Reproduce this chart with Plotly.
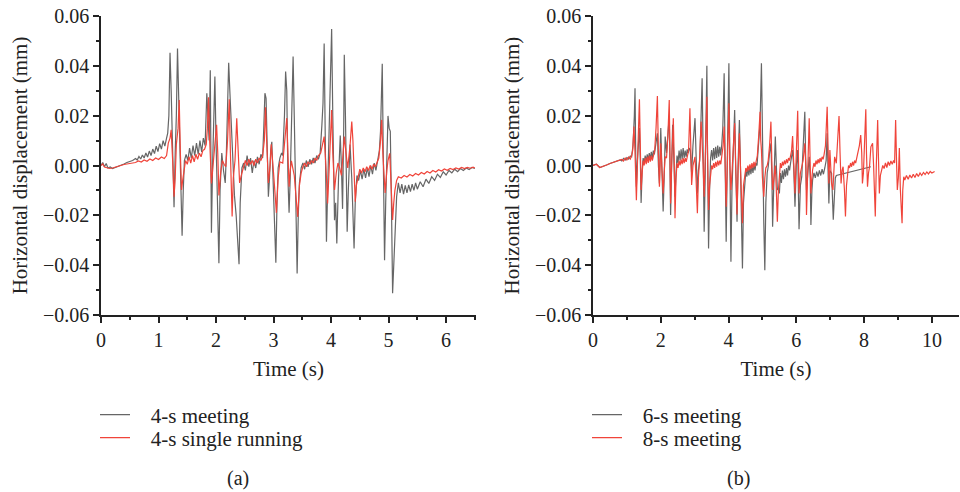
import plotly.graph_objects as go

# ---------------- Panel (a) ----------------
a_meet_t = [0.00,0.03,0.06,0.09,0.12,0.16,0.20,0.25,0.30,0.35,0.40,0.45,0.50,0.55,0.60,0.63,0.66,0.69,0.72,0.75,0.78,0.81,0.84,0.87,0.90,0.93,0.96,0.99,1.02,1.05,1.08,1.11,1.14,1.16,1.18,1.20,1.22,1.24,1.27,1.29,1.31,1.33,1.35,1.37,1.39,1.41,1.43,1.45,1.48,1.51,1.54,1.57,1.60,1.63,1.66,1.69,1.72,1.75,1.78,1.81,1.84,1.86,1.88,1.90,1.92,1.94,1.96,1.98,2.00,2.03,2.05,2.07,2.10,2.13,2.16,2.18,2.20,2.22,2.24,2.27,2.30,2.32,2.35,2.38,2.40,2.42,2.45,2.48,2.51,2.54,2.57,2.60,2.63,2.66,2.69,2.72,2.75,2.78,2.81,2.83,2.85,2.87,2.89,2.91,2.93,2.95,2.97,2.99,3.01,3.04,3.06,3.08,3.11,3.14,3.16,3.19,3.21,3.23,3.25,3.27,3.29,3.31,3.34,3.36,3.38,3.41,3.43,3.45,3.48,3.51,3.54,3.57,3.60,3.63,3.66,3.69,3.72,3.75,3.78,3.81,3.84,3.86,3.88,3.90,3.92,3.94,3.96,3.98,4.01,4.03,4.06,4.08,4.10,4.13,4.16,4.18,4.20,4.22,4.23,4.25,4.28,4.30,4.33,4.36,4.38,4.40,4.42,4.45,4.48,4.51,4.54,4.57,4.60,4.63,4.66,4.69,4.72,4.75,4.78,4.81,4.84,4.86,4.89,4.91,4.93,4.95,4.97,4.99,5.01,5.03,5.05,5.07,5.09,5.11,5.14,5.17,5.20,5.23,5.26,5.29,5.32,5.35,5.38,5.41,5.44,5.47,5.50,5.55,5.60,5.65,5.70,5.75,5.80,5.85,5.90,5.95,6.00,6.05,6.10,6.15,6.20,6.25,6.30,6.35,6.40,6.45,6.50]
a_meet_v = [0.0000,0.0012,-0.0005,0.0008,-0.0010,-0.0006,-0.0012,-0.0008,-0.0004,0.0000,0.0006,0.0012,0.0016,0.0020,0.0028,0.0022,0.0036,0.0026,0.0042,0.0030,0.0050,0.0034,0.0058,0.0040,0.0066,0.0048,0.0078,0.0056,0.0088,0.0066,0.0100,0.0078,0.0110,0.0130,0.0200,0.0452,0.0300,0.0100,-0.0168,0.0050,0.0200,0.0470,0.0300,0.0050,-0.0100,-0.0282,-0.0100,0.0020,0.0045,0.0020,0.0070,0.0030,0.0080,0.0040,0.0090,0.0045,0.0100,0.0055,0.0110,0.0080,0.0290,0.0200,0.0100,0.0382,-0.0270,0.0000,0.0150,0.0357,0.0100,-0.0150,-0.0392,-0.0100,0.0050,-0.0020,-0.0070,0.0050,0.0250,0.0412,0.0300,0.0156,-0.0050,-0.0120,-0.0200,-0.0300,-0.0396,-0.0150,-0.0010,0.0010,-0.0020,0.0040,-0.0005,0.0030,-0.0030,0.0020,-0.0010,0.0035,0.0005,0.0045,0.0030,0.0150,0.0290,0.0270,0.0050,-0.0125,-0.0050,0.0060,0.0095,-0.0050,-0.0205,-0.0390,-0.0150,-0.0010,0.0030,0.0050,0.0040,0.0200,0.0377,0.0300,-0.0050,-0.0190,-0.0050,0.0150,0.0437,0.0200,-0.0100,-0.0433,-0.0200,-0.0070,-0.0010,0.0010,-0.0015,0.0020,-0.0005,0.0025,0.0005,0.0030,0.0010,0.0040,0.0025,0.0050,0.0160,0.0250,0.0490,0.0100,-0.0306,-0.0100,0.0096,0.0200,0.0548,0.0200,-0.0220,-0.0150,-0.0313,-0.0050,0.0120,0.0000,-0.0174,0.0150,0.0444,0.0200,-0.0266,-0.0100,0.0084,-0.0050,-0.0200,-0.0333,-0.0150,-0.0040,-0.0060,-0.0020,-0.0055,-0.0015,-0.0050,-0.0010,-0.0045,0.0000,-0.0035,0.0010,-0.0020,0.0020,0.0060,0.0137,0.0408,0.0000,-0.0380,-0.0150,0.0050,0.0199,0.0150,0.0137,-0.0150,-0.0513,-0.0400,-0.0290,-0.0125,-0.0070,-0.0110,-0.0075,-0.0115,-0.0080,-0.0110,-0.0078,-0.0105,-0.0075,-0.0100,-0.0070,-0.0095,-0.0065,-0.0085,-0.0055,-0.0072,-0.0045,-0.0060,-0.0035,-0.0048,-0.0025,-0.0038,-0.0020,-0.0030,-0.0015,-0.0025,-0.0012,-0.0020,-0.0010,-0.0016,-0.0008,-0.0012]

a_single_t = [0.00,0.03,0.06,0.10,0.15,0.20,0.25,0.30,0.40,0.50,0.60,0.65,0.70,0.75,0.80,0.85,0.90,0.95,1.00,1.05,1.10,1.14,1.17,1.20,1.22,1.25,1.27,1.29,1.31,1.34,1.36,1.38,1.40,1.42,1.44,1.47,1.50,1.53,1.56,1.59,1.62,1.65,1.68,1.71,1.74,1.77,1.80,1.83,1.85,1.87,1.89,1.92,1.94,1.96,1.99,2.01,2.03,2.05,2.08,2.11,2.14,2.17,2.20,2.23,2.25,2.28,2.30,2.33,2.36,2.38,2.41,2.45,2.48,2.51,2.54,2.57,2.60,2.63,2.66,2.69,2.72,2.75,2.78,2.81,2.84,2.86,2.88,2.91,2.94,2.96,3.00,3.03,3.05,3.08,3.11,3.16,3.19,3.23,3.25,3.27,3.29,3.31,3.36,3.39,3.42,3.45,3.48,3.51,3.54,3.57,3.60,3.63,3.66,3.69,3.72,3.75,3.78,3.82,3.85,3.88,3.91,3.94,3.96,3.98,4.01,4.03,4.06,4.09,4.12,4.15,4.18,4.21,4.23,4.26,4.29,4.33,4.36,4.38,4.40,4.42,4.44,4.47,4.50,4.53,4.56,4.59,4.62,4.65,4.68,4.71,4.74,4.77,4.80,4.83,4.86,4.88,4.90,4.92,4.94,4.97,4.99,5.02,5.04,5.07,5.09,5.11,5.14,5.17,5.22,5.27,5.32,5.37,5.42,5.47,5.52,5.57,5.62,5.67,5.72,5.77,5.82,5.87,5.92,5.97,6.02,6.07,6.12,6.17,6.22,6.27,6.32,6.37,6.42,6.47,6.50]
a_single_v = [0.0000,0.0006,-0.0006,-0.0008,-0.0012,-0.0010,-0.0006,-0.0002,0.0004,0.0008,0.0012,0.0018,0.0014,0.0022,0.0017,0.0026,0.0020,0.0030,0.0024,0.0034,0.0028,0.0040,0.0090,0.0110,0.0143,0.0000,-0.0125,-0.0050,0.0085,0.0150,0.0263,0.0050,-0.0098,-0.0060,-0.0030,0.0020,0.0005,0.0035,0.0010,0.0040,0.0015,0.0045,0.0025,0.0050,0.0035,0.0060,0.0065,0.0085,0.0150,0.0274,0.0100,-0.0072,-0.0020,0.0035,0.0100,0.0163,0.0050,-0.0120,-0.0030,0.0020,0.0005,-0.0005,0.0100,0.0266,0.0050,-0.0205,-0.0050,0.0020,0.0190,0.0100,-0.0070,-0.0030,0.0000,0.0020,0.0000,0.0025,0.0005,0.0020,0.0000,0.0025,0.0010,0.0030,0.0020,0.0040,0.0100,0.0234,0.0100,-0.0070,0.0000,0.0085,-0.0030,-0.0120,-0.0190,-0.0050,0.0015,0.0010,0.0080,0.0190,0.0050,-0.0085,-0.0020,0.0019,-0.0040,-0.0120,-0.0206,-0.0080,-0.0030,-0.0005,0.0010,-0.0005,0.0015,0.0005,0.0020,0.0010,0.0030,0.0020,0.0040,0.0050,0.0080,0.0116,0.0000,-0.0152,-0.0050,0.0050,0.0223,0.0050,-0.0098,-0.0030,0.0010,-0.0010,-0.0040,0.0050,0.0116,0.0050,-0.0010,0.0080,0.0176,0.0100,-0.0050,-0.0145,-0.0080,-0.0040,-0.0015,-0.0030,-0.0010,-0.0025,-0.0005,-0.0020,0.0000,-0.0015,0.0005,-0.0005,0.0015,0.0030,0.0100,0.0183,0.0050,-0.0050,-0.0110,-0.0020,0.0020,0.0049,-0.0050,-0.0219,-0.0150,-0.0100,-0.0060,-0.0045,-0.0050,-0.0040,-0.0046,-0.0036,-0.0042,-0.0032,-0.0038,-0.0028,-0.0034,-0.0024,-0.0030,-0.0020,-0.0026,-0.0017,-0.0022,-0.0014,-0.0019,-0.0012,-0.0016,-0.0010,-0.0014,-0.0008,-0.0012,-0.0008,-0.0011,-0.0007,-0.0010]

# ---------------- Panel (b) ----------------
b_6s_t = [0.00,0.10,0.20,0.30,0.40,0.50,0.60,0.70,0.80,0.85,0.90,0.95,1.00,1.05,1.10,1.14,1.18,1.22,1.24,1.26,1.28,1.31,1.34,1.37,1.40,1.42,1.45,1.48,1.51,1.54,1.57,1.60,1.63,1.66,1.69,1.72,1.75,1.78,1.81,1.84,1.87,1.90,1.93,1.96,1.98,2.00,2.03,2.07,2.10,2.13,2.17,2.21,2.25,2.27,2.29,2.32,2.35,2.38,2.42,2.45,2.48,2.51,2.54,2.57,2.60,2.63,2.66,2.69,2.72,2.75,2.78,2.81,2.84,2.87,2.91,2.95,2.98,3.01,3.04,3.08,3.11,3.15,3.18,3.22,3.25,3.28,3.31,3.34,3.36,3.38,3.41,3.44,3.47,3.50,3.53,3.56,3.59,3.62,3.65,3.68,3.71,3.74,3.77,3.80,3.83,3.85,3.87,3.90,3.93,3.96,3.99,4.01,4.04,4.07,4.10,4.14,4.18,4.21,4.25,4.28,4.32,4.35,4.38,4.41,4.44,4.48,4.51,4.54,4.57,4.60,4.63,4.66,4.69,4.72,4.75,4.78,4.81,4.84,4.88,4.93,4.97,5.00,5.04,5.07,5.10,5.14,5.17,5.21,5.25,5.28,5.30,5.33,5.38,5.41,5.44,5.47,5.50,5.53,5.56,5.59,5.62,5.65,5.68,5.71,5.74,5.77,5.80,5.83,5.86,5.89,5.92,5.96,6.00,6.04,6.08,6.12,6.16,6.20,6.25,6.28,6.30,6.34,6.38,6.41,6.43,6.46,6.48,6.52,6.56,6.60,6.64,6.68,6.72,6.76,6.80,6.84,6.88,6.91,6.94,6.96,6.99,7.04,7.09,7.12,7.15,7.18,7.30,7.45,7.60,7.75,7.90,8.05,8.20]
b_6s_v = [0.0000,0.0005,-0.0008,-0.0004,0.0002,0.0008,0.0012,0.0016,0.0022,0.0018,0.0028,0.0022,0.0032,0.0026,0.0038,0.0035,0.0080,0.0200,0.0310,0.0050,-0.0085,0.0020,0.0100,0.0150,0.0000,-0.0150,-0.0020,0.0030,0.0010,0.0040,0.0015,0.0045,0.0020,0.0050,0.0025,0.0055,0.0030,0.0060,0.0045,0.0080,0.0100,0.0129,0.0000,-0.0072,0.0050,0.0150,0.0000,-0.0185,-0.0050,0.0116,0.0050,0.0120,0.0197,0.0000,-0.0199,0.0000,0.0163,0.0050,-0.0125,-0.0030,0.0040,0.0010,0.0060,0.0020,0.0065,0.0025,0.0070,0.0030,0.0060,0.0035,0.0065,0.0050,0.0070,0.0062,-0.0031,0.0080,0.0150,0.0190,0.0050,-0.0112,-0.0020,0.0022,0.0150,0.0350,0.0050,-0.0266,-0.0050,0.0200,0.0400,0.0050,-0.0333,-0.0100,0.0030,0.0062,0.0020,0.0070,0.0025,0.0075,0.0030,0.0080,0.0035,0.0075,0.0040,0.0085,0.0150,0.0250,0.0370,0.0000,-0.0306,0.0000,0.0250,0.0410,0.0000,-0.0386,-0.0100,0.0100,0.0223,0.0000,-0.0226,0.0000,0.0183,0.0000,-0.0200,-0.0413,-0.0150,-0.0072,-0.0020,-0.0045,-0.0010,-0.0040,-0.0005,-0.0035,0.0000,-0.0030,0.0005,-0.0020,0.0010,0.0000,0.0080,0.0170,0.0410,0.0050,-0.0232,-0.0420,-0.0150,-0.0030,-0.0005,0.0050,0.0089,-0.0050,-0.0246,-0.0100,0.0116,0.0000,-0.0098,-0.0090,-0.0112,-0.0030,-0.0070,-0.0020,-0.0055,-0.0015,-0.0045,-0.0010,-0.0040,0.0000,-0.0020,0.0010,0.0030,0.0062,0.0000,-0.0165,0.0000,0.0062,-0.0256,-0.0080,-0.0045,0.0050,0.0216,0.0000,-0.0098,-0.0030,0.0035,-0.0050,-0.0239,-0.0100,-0.0058,-0.0030,-0.0050,-0.0025,-0.0045,-0.0020,-0.0040,-0.0015,-0.0035,-0.0010,0.0020,0.0129,0.0000,-0.0152,-0.0020,-0.0031,-0.0218,-0.0100,-0.0050,-0.0040,-0.0036,-0.0032,-0.0028,-0.0022,-0.0016,-0.0010,-0.0005]

b_8s_t = [0.00,0.10,0.20,0.30,0.40,0.50,0.60,0.70,0.80,0.85,0.90,0.95,1.00,1.05,1.10,1.14,1.17,1.21,1.24,1.28,1.31,1.34,1.37,1.40,1.42,1.45,1.48,1.51,1.54,1.57,1.60,1.63,1.66,1.69,1.72,1.75,1.78,1.82,1.86,1.90,1.93,1.96,2.00,2.03,2.07,2.10,2.13,2.17,2.21,2.25,2.27,2.29,2.32,2.35,2.37,2.40,2.42,2.45,2.48,2.51,2.54,2.57,2.60,2.63,2.66,2.69,2.72,2.75,2.78,2.82,2.86,2.88,2.91,2.95,3.01,3.04,3.08,3.11,3.15,3.19,3.22,3.25,3.28,3.31,3.34,3.36,3.38,3.41,3.44,3.47,3.50,3.53,3.56,3.59,3.62,3.65,3.68,3.71,3.74,3.77,3.80,3.84,3.87,3.90,3.93,3.96,3.99,4.01,4.04,4.07,4.10,4.14,4.18,4.21,4.25,4.28,4.32,4.35,4.38,4.41,4.44,4.48,4.51,4.54,4.57,4.60,4.63,4.66,4.69,4.72,4.75,4.78,4.81,4.85,4.89,4.93,4.95,4.97,5.00,5.04,5.07,5.10,5.14,5.17,5.21,5.25,5.28,5.30,5.34,5.38,5.41,5.44,5.47,5.50,5.53,5.56,5.59,5.62,5.65,5.68,5.71,5.74,5.77,5.80,5.83,5.86,5.89,5.92,5.96,6.00,6.04,6.06,6.08,6.12,6.16,6.20,6.25,6.28,6.30,6.33,6.36,6.38,6.41,6.43,6.46,6.48,6.52,6.55,6.58,6.61,6.64,6.67,6.70,6.73,6.76,6.79,6.82,6.86,6.91,6.94,6.96,6.99,7.02,7.04,7.08,7.11,7.13,7.18,7.22,7.26,7.29,7.32,7.35,7.38,7.42,7.45,7.48,7.51,7.54,7.57,7.60,7.63,7.66,7.69,7.72,7.75,7.78,7.82,7.86,7.90,7.93,7.95,7.98,8.01,8.05,8.07,8.10,8.13,8.16,8.20,8.25,8.28,8.30,8.33,8.36,8.40,8.42,8.45,8.48,8.51,8.55,8.59,8.63,8.67,8.71,8.75,8.79,8.83,8.87,8.90,8.93,8.96,8.98,9.01,9.04,9.07,9.10,9.12,9.14,9.17,9.20,9.25,9.30,9.35,9.40,9.45,9.50,9.55,9.60,9.65,9.70,9.75,9.80,9.85,9.90,9.95,10.00,10.08]
b_8s_v = [0.0000,0.0005,-0.0008,-0.0004,0.0002,0.0008,0.0012,0.0016,0.0020,0.0024,0.0018,0.0030,0.0022,0.0034,0.0026,0.0040,0.0060,0.0156,0.0050,-0.0139,0.0000,0.0150,0.0266,0.0050,-0.0098,-0.0030,0.0020,0.0000,0.0030,0.0005,0.0035,0.0010,0.0040,0.0015,0.0040,0.0020,0.0045,0.0060,0.0150,0.0279,0.0050,-0.0085,0.0089,0.0020,-0.0112,-0.0030,0.0035,0.0030,0.0120,0.0263,0.0050,-0.0152,0.0000,0.0150,0.0190,0.0000,-0.0212,-0.0050,0.0010,-0.0010,0.0020,0.0000,0.0025,0.0005,0.0030,0.0010,0.0030,0.0015,0.0035,0.0060,0.0230,0.0050,-0.0078,0.0000,0.0035,-0.0050,-0.0192,-0.0050,0.0035,0.0176,0.0100,0.0000,-0.0125,0.0000,0.0200,0.0276,0.0050,-0.0179,-0.0080,-0.0031,0.0000,-0.0015,0.0010,-0.0010,0.0015,-0.0005,0.0020,0.0000,0.0020,0.0005,0.0030,0.0080,0.0156,0.0000,-0.0165,-0.0020,0.0150,0.0250,0.0000,-0.0098,-0.0030,0.0050,0.0170,0.0000,-0.0197,-0.0030,0.0129,0.0000,-0.0100,-0.0232,-0.0080,-0.0045,-0.0010,-0.0025,0.0000,-0.0020,0.0005,-0.0015,0.0010,-0.0010,0.0015,-0.0005,0.0020,0.0040,0.0120,0.0216,0.0100,0.0062,-0.0050,-0.0125,-0.0050,-0.0010,0.0000,0.0020,0.0080,0.0176,0.0000,-0.0098,-0.0050,0.0000,-0.0100,-0.0226,-0.0100,-0.0020,0.0010,-0.0010,0.0015,0.0000,0.0020,0.0005,0.0025,0.0010,0.0030,0.0020,0.0040,0.0060,0.0118,0.0000,-0.0112,0.0050,0.0220,0.0050,-0.0112,-0.0030,-0.0005,0.0020,0.0089,0.0000,-0.0199,-0.0050,0.0100,0.0190,0.0000,-0.0112,-0.0050,-0.0018,0.0010,-0.0005,0.0020,0.0005,0.0025,0.0010,0.0030,0.0015,0.0035,0.0025,0.0045,0.0080,0.0236,0.0050,-0.0072,0.0062,0.0000,-0.0072,-0.0098,0.0000,0.0035,0.0009,0.0100,0.0199,0.0050,-0.0072,-0.0020,-0.0005,-0.0100,-0.0205,-0.0080,-0.0018,0.0000,-0.0010,0.0010,-0.0005,0.0015,0.0000,0.0020,0.0010,0.0030,0.0045,0.0080,0.0122,0.0050,-0.0072,-0.0030,0.0080,0.0226,0.0050,-0.0085,-0.0030,-0.0005,0.0075,0.0089,0.0000,-0.0100,-0.0205,0.0000,0.0183,0.0050,-0.0112,-0.0040,-0.0018,0.0000,-0.0012,0.0010,-0.0008,0.0015,0.0000,0.0018,0.0005,0.0020,0.0010,0.0183,0.0000,-0.0098,-0.0050,0.0070,-0.0098,-0.0180,-0.0232,-0.0100,-0.0045,-0.0058,-0.0040,-0.0055,-0.0038,-0.0050,-0.0035,-0.0048,-0.0032,-0.0044,-0.0030,-0.0040,-0.0028,-0.0036,-0.0026,-0.0034,-0.0024,-0.0030,-0.0024]

y_ticks = [-0.06, -0.04, -0.02, 0.00, 0.02, 0.04, 0.06]
names_a = ["4-s meeting", "4-s single running"]
names_b = ["6-s meeting", "8-s meeting"]
panel_labels = ["(a)", "(b)"]

GRAY = "#666666"
RED = "#f0443a"
FONT = "Liberation Serif"
TXT = "#222"
W, H = 960, 492
PAD = "\u00a0\u00a0\u00a0"

fig = go.Figure()
fig.add_trace(go.Scatter(x=a_meet_t, y=a_meet_v, mode="lines", name=PAD + names_a[0],
                         line=dict(color=GRAY, width=1.2), xaxis="x", yaxis="y", legend="legend"))
fig.add_trace(go.Scatter(x=a_single_t, y=a_single_v, mode="lines", name=PAD + names_a[1],
                         line=dict(color=RED, width=1.2), xaxis="x", yaxis="y", legend="legend2"))
fig.add_trace(go.Scatter(x=b_6s_t, y=b_6s_v, mode="lines", name=PAD + names_b[0],
                         line=dict(color=GRAY, width=1.2), xaxis="x2", yaxis="y2", legend="legend3"))
fig.add_trace(go.Scatter(x=b_8s_t, y=b_8s_v, mode="lines", name=PAD + names_b[1],
                         line=dict(color=RED, width=1.2), xaxis="x2", yaxis="y2", legend="legend4"))

ydom = [(H - 315) / H, (H - 16) / H]

def xax(domain, rng, dtick, minor):
    return dict(domain=domain, range=rng, dtick=dtick, tick0=0, ticks="outside", ticklen=6,
                tickwidth=1.5, tickcolor=TXT, showline=True, linecolor=TXT, linewidth=1.5,
                showgrid=False, zeroline=False, mirror=False,
                minor=dict(dtick=minor, tick0=0, ticks="outside", ticklen=3.5, tickwidth=1.5, tickcolor=TXT, showgrid=False),
                tickfont=dict(family=FONT, size=20, color=TXT),
                title=dict(text="Time (s)", font=dict(family=FONT, size=21, color=TXT), standoff=12))

def yax(anchor):
    return dict(domain=ydom, range=[-0.06, 0.06], tickvals=y_ticks, tickformat=".2f", anchor=anchor,
                ticks="outside", ticklen=6, tickwidth=1.5, tickcolor=TXT, showline=True,
                linecolor=TXT, linewidth=1.5, showgrid=False, zeroline=False,
                minor=dict(dtick=0.01, tick0=0, ticks="outside", ticklen=3.5, tickwidth=1.5, tickcolor=TXT, showgrid=False),
                tickfont=dict(family=FONT, size=20, color=TXT),
                title=dict(text="Horizontal displacement (mm)", font=dict(family=FONT, size=21, color=TXT), standoff=10))

def leg(xpx, ypx):
    return dict(x=xpx / W, y=1 - ypx / H, xanchor="left", yanchor="middle", bgcolor="rgba(0,0,0,0)",
                font=dict(family=FONT, size=21, color=TXT), borderwidth=0)

fig.update_layout(
    width=W, height=H, margin=dict(l=0, r=0, t=0, b=0, autoexpand=False),
    plot_bgcolor="white", paper_bgcolor="white", showlegend=True,
    xaxis=dict(xax([101 / W, 476 / W], [0, 6.52], 1, 0.5), anchor="y"),
    yaxis=yax("x"),
    xaxis2=dict(xax([593 / W, 959 / W], [0, 10.8], 2, 1), anchor="y2"),
    yaxis2=yax("x2"),
    legend=leg(95, 415),
    legend2=leg(95, 438),
    legend3=leg(587, 415),
    legend4=leg(587, 438),
    annotations=[
        dict(text=panel_labels[0], x=238 / W, y=1 - 478 / H, xref="paper", yref="paper",
             xanchor="center", yanchor="middle", showarrow=False, font=dict(family=FONT, size=20, color=TXT)),
        dict(text=panel_labels[1], x=738 / W, y=1 - 478 / H, xref="paper", yref="paper",
             xanchor="center", yanchor="middle", showarrow=False, font=dict(family=FONT, size=20, color=TXT)),
    ],
)

fig.write_html("out.html")
